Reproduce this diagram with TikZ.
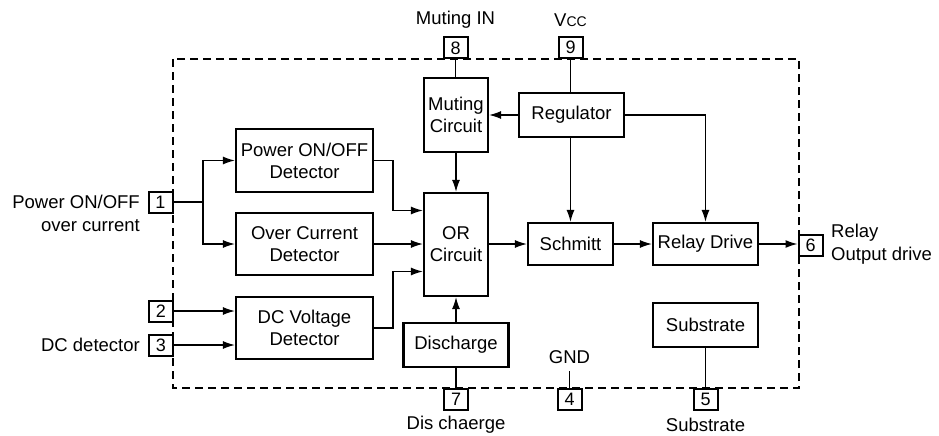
\documentclass[tikz,border=0pt]{standalone}
\usepackage{fontspec}
\setmainfont{Liberation Sans}
\usetikzlibrary{arrows.meta,calc}
\begin{document}
\begin{tikzpicture}[x=1pt,y=-1pt,
  txt/.style={font=\fontsize{18.5}{22}\selectfont, inner sep=0pt},
  blk/.style={draw, line width=2.2pt, fill=white, align=center, inner sep=0pt, font=\fontsize{18.5}{22}\selectfont},
  pin/.style={draw, line width=2pt, fill=white, minimum width=24pt, minimum height=21pt, inner sep=0pt, font=\fontsize{18}{20}\selectfont},
  wire/.style={line width=1.3pt},
  arr/.style={wire, -{Latex[length=12pt,width=8pt]}},
  border/.style={line width=2.2pt, dash pattern=on 8pt off 5pt}]
\useasboundingbox (0,0) rectangle (939,436);
% dashed package outline
\draw[border] (173,59) rectangle (799,388);
% blocks
\node[blk, minimum width=137pt, minimum height=63pt] (pod) at (304.5,160.5) {Power ON/OFF\\Detector};
\node[blk, minimum width=137pt, minimum height=62pt] (ocd) at (304.5,244) {Over Current\\Detector};
\node[blk, minimum width=137pt, minimum height=62pt] (dcv) at (304.5,328) {DC Voltage\\Detector};
\node[blk, minimum width=64pt, minimum height=103pt] (orc) at (456,244.5) {OR\\Circuit};
\node[blk, minimum width=64pt, minimum height=74pt] (mut) at (456,115) {Muting\\Circuit};
\node[blk, minimum width=105pt, minimum height=44pt] (reg) at (571.5,115) {Regulator};
\node[blk, minimum width=85pt, minimum height=42pt] (sch) at (570.5,244) {Schmitt};
\node[blk, minimum width=105pt, minimum height=42pt] (rld) at (705.5,244) {Relay Drive};
\node[blk, minimum width=105pt, minimum height=44pt] (dis) at (456,345) {Discharge};
\node[blk, minimum width=105pt, minimum height=44pt] (sub) at (705.5,325) {Substrate};
% pins
\node[pin] (p8) at (455.5,48) {8};
\node[pin] (p9) at (570.5,47.5) {9};
\node[pin] (p1) at (160.5,202) {1};
\node[pin] (p2) at (161,311) {2};
\node[pin] (p3) at (161,345) {3};
\node[pin] (p7) at (456,399) {7};
\node[pin] (p4) at (569.5,399) {4};
\node[pin] (p5) at (705.5,399) {5};
\node[pin] (p6) at (810.5,245) {6};
% labels
\node[txt] (lmut) at (455.5,20) {Muting IN};
\node[txt] (lvcc) at (570.5,20) {V{\fontsize{14}{16}\selectfont CC}};
\node[txt, anchor=east] (lpow) at (140,202) {Power ON/OFF};
\node[txt, anchor=east] (lovc) at (140,226) {over current};
\node[txt, anchor=east] (ldcd) at (140,345) {DC detector};
\node[txt] (ldis) at (456,425) {Dis chaerge};
\node[txt] (lgnd) at (569.5,357) {GND};
\node[txt] (lsub) at (705.5,425) {Substrate};
\node[txt, anchor=west] (lrel) at (831,233) {Relay};
\node[txt, anchor=west] (lout) at (831,256) {Output drive};
% connectors
\coordinate (s1) at (203,202);
\draw[wire] (p1.east) -- (s1);
\draw[arr] (s1) |- (pod.west);
\draw[arr] (s1) |- (ocd.west);
\draw[arr] (p2.east) -- (dcv.west |- p2.east);
\draw[arr] (p3.east) -- (dcv.west |- p3.east);
\draw[arr] (pod.east) -- ++(19,0) |- ([yshift=34pt]orc.west);
\draw[arr] (ocd.east) -- (orc.west |- ocd.east);
\draw[arr] (dcv.east) -- ++(19,0) |- ([yshift=-27pt]orc.west);
\draw[wire] (p8.south) -- (p8.south |- mut.north);
\draw[arr] (mut.south) -- (orc.north);
\draw[wire] (p9.south) -- (p9.south |- reg.north);
\draw[arr] (reg.west) -- (mut.east);
\draw[arr] (p9.south |- reg.south) -- (p9.south |- sch.north);
\draw[arr] (reg.east) -| (rld.north);
\draw[arr] (orc.east |- sch.west) -- (sch.west);
\draw[arr] (sch.east) -- (rld.west);
\draw[arr] (rld.east) -- (p6.west |- rld.east);
\draw[arr] (dis.north) -- (orc.south);
\draw[wire] (dis.south) -- (p7.north);
\coordinate (g4) at (569.5,371);
\draw[wire] (p4.north) -- (g4);
\draw[wire] (sub.south) -- (p5.north);
\end{tikzpicture}
\end{document}
